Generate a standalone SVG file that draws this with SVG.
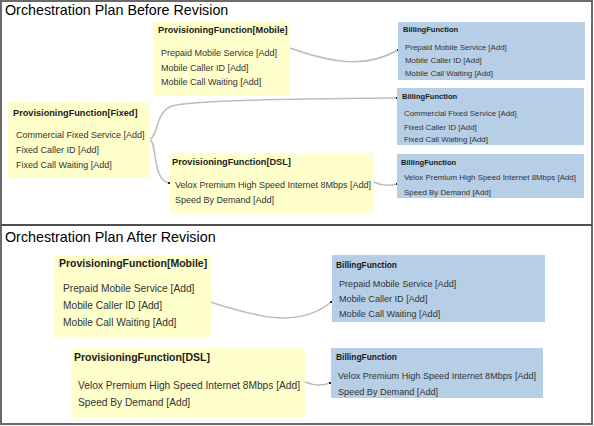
<svg xmlns="http://www.w3.org/2000/svg" width="594" height="426" viewBox="0 0 594 426">
<style>
text{font-family:"Liberation Sans",Arial,sans-serif}
.hdr{font-size:14.3px;fill:#000}
.prov{fill:#ffffcc}
.bill{fill:#b7cfe6}
.pt{font-weight:bold;font-size:9.2px;fill:#1a1a1a}
.pi{font-size:9px;fill:#333}
.bt{font-weight:bold;font-size:7.6px;fill:#1a1a1a}
.bi{font-size:7.9px;fill:#333}
.pt2{font-weight:bold;font-size:10.5px;fill:#1a1a1a}
.pi2{font-size:10.2px;fill:#333}
.bt2{font-weight:bold;font-size:8.4px;fill:#1a1a1a}
.bi2{font-size:9.1px;fill:#333}
.conn path{fill:none;stroke:#bdbdb5;stroke-width:1.5}
.dot{fill:#222}
</style>
<rect x="0" y="0" width="594" height="426" fill="#ffffff"/>
<rect x="1" y="1" width="591" height="423" fill="none" stroke="#6a6a6a" stroke-width="2"/>
<line x1="1" y1="225" x2="592" y2="225" stroke="#505050" stroke-width="2"/>
<text class="hdr" x="5" y="15">Orchestration Plan Before Revision</text>
<text class="hdr" x="5" y="242">Orchestration Plan After Revision</text>

<g id="conns" class="conn">
<path d="M290,48 C340,66 370,66 398,50"/>
<path d="M150,139 C158,137 155,112 172,106 S300,99 397,98"/>
<path d="M150,140 C157,142 152,178 168,183"/>
<path d="M374,182 C382,186 390,186 397,184"/>
<path d="M210,302 C260,318 300,328 331,302"/>
<path d="M305,382 C315,386 323,386 330,383"/>
<rect class="dot" x="397" y="49" width="2" height="2"/>
<rect class="dot" x="396" y="97" width="2" height="2"/>
<rect class="dot" x="168" y="182" width="2" height="2"/>
<rect class="dot" x="396" y="183" width="2" height="2"/>
<rect class="dot" x="330" y="301" width="2" height="2"/>
<rect class="dot" x="329" y="382" width="2" height="2"/>
</g>

<g id="prov-mobile-before">
<rect class="prov" x="153" y="22" width="137" height="74"/>
<text class="pt" x="158" y="32.5">ProvisioningFunction[Mobile]</text>
<text class="pi" x="161" y="55.5">Prepaid Mobile Service [Add]</text>
<text class="pi" x="161" y="70.5">Mobile Caller ID [Add]</text>
<text class="pi" x="161" y="85">Mobile Call Waiting [Add]</text>
</g>
<g id="bill-mobile-before">
<rect class="bill" x="398" y="22" width="187" height="58"/>
<text class="bt" x="403" y="32">BillingFunction</text>
<text class="bi" x="405" y="50">Prepaid Mobile Service [Add]</text>
<text class="bi" x="405" y="63">Mobile Caller ID [Add]</text>
<text class="bi" x="405" y="75.5">Mobile Call Waiting [Add]</text>
</g>
<g id="prov-fixed-before">
<rect class="prov" x="8" y="102" width="142" height="76"/>
<text class="pt" x="13" y="115.5">ProvisioningFunction[Fixed]</text>
<text class="pi" x="16" y="138">Commercial Fixed Service [Add]</text>
<text class="pi" x="16" y="152.5">Fixed Caller ID [Add]</text>
<text class="pi" x="16" y="167.5">Fixed Call Waiting [Add]</text>
</g>
<g id="bill-fixed-before">
<rect class="bill" x="397" y="88" width="187" height="57"/>
<text class="bt" x="402" y="99">BillingFunction</text>
<text class="bi" x="404" y="116">Commercial Fixed Service [Add]</text>
<text class="bi" x="404" y="129.5">Fixed Caller ID [Add]</text>
<text class="bi" x="404" y="142">Fixed Call Waiting [Add]</text>
</g>
<g id="prov-dsl-before">
<rect class="prov" x="170" y="153" width="204" height="60"/>
<text class="pt" x="172" y="164.5">ProvisioningFunction[DSL]</text>
<text class="pi" x="175" y="187.5">Velox Premium High Speed Internet 8Mbps [Add]</text>
<text class="pi" x="175" y="203">Speed By Demand [Add]</text>
</g>
<g id="bill-dsl-before">
<rect class="bill" x="397" y="154" width="187" height="44"/>
<text class="bt" x="401" y="164.5">BillingFunction</text>
<text class="bi" x="404" y="180">Velox Premium High Speed Internet 8Mbps [Add]</text>
<text class="bi" x="404" y="195">Speed By Demand [Add]</text>
</g>

<g id="prov-mobile-after">
<rect class="prov" x="53" y="255" width="158" height="82"/>
<text class="pt2" x="59" y="266.5">ProvisioningFunction[Mobile]</text>
<text class="pi2" x="63" y="291.5">Prepaid Mobile Service [Add]</text>
<text class="pi2" x="63" y="309">Mobile Caller ID [Add]</text>
<text class="pi2" x="63" y="325.5">Mobile Call Waiting [Add]</text>
</g>
<g id="bill-mobile-after">
<rect class="bill" x="332" y="255" width="213" height="67"/>
<text class="bt2" x="336" y="267.5">BillingFunction</text>
<text class="bi2" x="339" y="286.5">Prepaid Mobile Service [Add]</text>
<text class="bi2" x="339" y="301.5">Mobile Caller ID [Add]</text>
<text class="bi2" x="339" y="316.5">Mobile Call Waiting [Add]</text>
</g>
<g id="prov-dsl-after">
<rect class="prov" x="71" y="348" width="234" height="69"/>
<text class="pt2" x="74" y="361">ProvisioningFunction[DSL]</text>
<text class="pi2" x="78" y="388.5">Velox Premium High Speed Internet 8Mbps [Add]</text>
<text class="pi2" x="78" y="405.5">Speed By Demand [Add]</text>
</g>
<g id="bill-dsl-after">
<rect class="bill" x="331" y="348" width="212" height="50"/>
<text class="bt2" x="336" y="359.5">BillingFunction</text>
<text class="bi2" x="338" y="378.5">Velox Premium High Speed Internet 8Mbps [Add]</text>
<text class="bi2" x="338" y="394.5">Speed By Demand [Add]</text>
</g>
</svg>
